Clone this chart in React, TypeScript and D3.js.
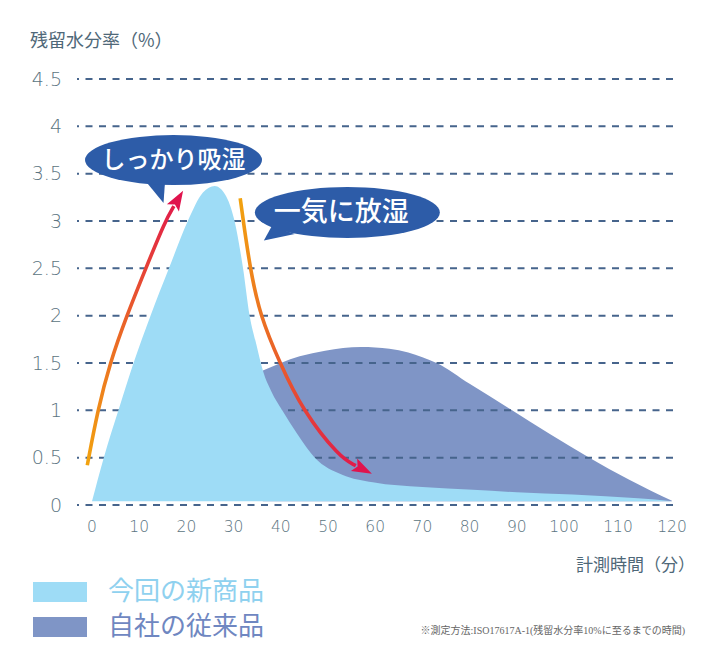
import * as d3 from "d3";
import React from "react";

// residual moisture (%) vs. measured time (min)
const newX = [0, 2.5, 5.6, 8.8, 12.4, 16.3, 20.3, 23.5, 26, 28.2, 30.2, 32, 33.4, 34.8, 36.2, 38, 40.3, 43.5, 47.2, 53, 59.5, 70, 80.7, 90, 101.6, 113.7, 120];
const newY = [0.04, 0.5, 1.0, 1.5, 2.0, 2.5, 3.0, 3.3, 3.37, 3.28, 3.0, 2.5, 2.0, 1.7, 1.42, 1.2, 1.0, 0.75, 0.5, 0.32, 0.24, 0.19, 0.16, 0.135, 0.11, 0.07, 0.04];

const oldX = [36.2, 40, 44, 49.4, 57, 63, 67, 70, 73, 80, 89, 97, 104.7, 112, 120];
const oldY = [1.42, 1.5, 1.57, 1.63, 1.67, 1.65, 1.61, 1.56, 1.5, 1.28, 1.0, 0.75, 0.5, 0.27, 0.045];

const baseValue = 0.04;

const xTicks = [0, 10, 20, 30, 40, 50, 60, 70, 80, 90, 100, 110, 120];
const yTicks = [0, 0.5, 1, 1.5, 2, 2.5, 3, 3.5, 4, 4.5];

const seriesNames = ["今回の新商品", "自社の従来品"];
const yTitle = "残留水分率（%）";
const xTitle = "計測時間（分）";
const note = "※測定方法:ISO17617A-1(残留水分率10%に至るまでの時間)";

// annotation arrows (data units)
const riseX = [-1.0, 1.2, 3.8, 7.35, 11.4, 15.5, 19.3];
const riseY = [0.42, 1.0, 1.5, 2.0, 2.5, 3.0, 3.32];
const fallX = [31.4, 32.05, 33.5, 35.6, 39.8, 44.6, 52.5, 59.3];
const fallY = [3.24, 3.0, 2.5, 2.0, 1.5, 1.0, 0.5, 0.33];

const bubbleText = ["しっかり吸湿", "一気に放湿"];
const bubbleX = [17.27, 54.1];
const bubbleY = [3.644, 3.09];

const LIGHT = "#9edcf6";
const DARK = "#7f95c6";
const GRID = "#46648c";
const TICK = "#5b7481";
const BUBBLE = "#2d5ca8";
const CJK = "'Noto Sans CJK JP', 'Noto Sans', sans-serif";
const NUM = "'DejaVu Sans', sans-serif";

const x = d3.scaleLinear().domain([0, 100, 120]).range([92, 564, 672]);
const y = d3.scaleLinear().domain([0, 4.5]).range([505, 79]);

const zip = (xs: number[], ys: number[]): [number, number][] =>
  xs.map((v, i) => [v, ys[i]]);

const area = d3
  .area<[number, number]>()
  .x((d) => x(d[0]))
  .y0(y(baseValue))
  .y1((d) => y(d[1]))
  .curve(d3.curveMonotoneX);

const Arrow = ({ xs, ys, id, from, to }: { xs: number[]; ys: number[]; id: string; from: string; to: string }) => {
  const pts = xs.map((v, i) => [x(v), y(ys[i])] as [number, number]);
  const tip = pts[pts.length - 1];
  const prev = pts[pts.length - 2];
  const dx = tip[0] - prev[0];
  const dy = tip[1] - prev[1];
  const len = Math.hypot(dx, dy);
  const ux = dx / len;
  const uy = dy / len;
  const headLen = 20;
  const headHalf = 7;
  const base: [number, number] = [tip[0] - ux * headLen, tip[1] - uy * headLen];
  const body = [...pts.slice(0, -1), [base[0] + ux * 2, base[1] + uy * 2] as [number, number]];
  const line = d3.line().curve(d3.curveBasis);
  const head = [
    tip,
    [base[0] - uy * headHalf, base[1] + ux * headHalf],
    [base[0] + ux * 4, base[1] + uy * 4],
    [base[0] + uy * headHalf, base[1] - ux * headHalf],
  ];
  return (
    <g>
      <defs>
        <linearGradient id={id} gradientUnits="userSpaceOnUse" x1={pts[0][0]} y1={pts[0][1]} x2={tip[0]} y2={tip[1]}>
          <stop offset="0" stopColor={from} />
          <stop offset="0.5" stopColor="#ea6328" />
          <stop offset="1" stopColor={to} />
        </linearGradient>
      </defs>
      <path d={line(body) ?? ""} fill="none" stroke={`url(#${id})`} strokeWidth={3.6} strokeLinecap="butt" />
      <polygon points={head.map((p) => p.join(",")).join(" ")} fill={to} />
    </g>
  );
};

const App = (): React.ReactElement => {
  const light = zip(newX, newY);
  const dark = zip(oldX, oldY);

  // bubble geometry in px, relative to each centre
  const bubbleR = [
    [88.5, 25],
    [92.5, 25.5],
  ];
  const tails = [
    [[-30.5, 18], [-10, 43], [-8.5, 22]],
    [[-75.5, 13.5], [-83.5, 28], [-52.5, 21.5]],
  ];
  const textDx = [0, -6];
  const textSize = [24, 27];

  return (
    <svg width={712} height={656} style={{ position: "absolute", left: 0, top: 0, background: "#fff" }}>
      {/* y title */}
      <text x={30} y={47} fontFamily={CJK} fontSize={18} fill="#4f6878">
        {yTitle}
      </text>

      {/* y tick labels */}
      {yTicks.map((t) => (
        <text key={t} x={62} y={y(t) + 1} textAnchor="end" dominantBaseline="middle" fontFamily={NUM} fontWeight={200} fontSize={19} fill={TICK}>
          {String(t)}
        </text>
      ))}

      {/* x tick labels */}
      {xTicks.map((t) => (
        <text key={t} x={x(t)} y={527} textAnchor="middle" dominantBaseline="middle" fontFamily={NUM} fontWeight={200} fontSize={15.5} fill={TICK}>
          {String(t)}
        </text>
      ))}

      {/* conventional product */}
      <path d={area(dark) ?? ""} fill={DARK} />

      {/* dashed grid */}
      {yTicks.map((t) => (
        <line key={t} x1={77} x2={676} y1={y(t)} y2={y(t)} stroke={GRID} strokeWidth={2} strokeDasharray="7 6.5" strokeDashoffset={5} />
      ))}

      {/* new product */}
      <path d={area(light) ?? ""} fill={LIGHT} />

      <Arrow xs={riseX} ys={riseY} id="riseGrad" from="#f2a30f" to="#e0134d" />
      <Arrow xs={fallX} ys={fallY} id="fallGrad" from="#f2a30f" to="#e0134d" />

      {/* callouts */}
      {bubbleText.map((txt, i) => {
        const cx = x(bubbleX[i]);
        const cy = y(bubbleY[i]);
        return (
          <g key={txt}>
            <polygon points={tails[i].map((p) => `${cx + p[0]},${cy + p[1]}`).join(" ")} fill={BUBBLE} />
            <ellipse cx={cx} cy={cy} rx={bubbleR[i][0]} ry={bubbleR[i][1]} fill={BUBBLE} />
            <text x={cx + textDx[i]} y={cy + 1} textAnchor="middle" dominantBaseline="middle" fontFamily={CJK} fontWeight={500} fontSize={textSize[i]} fill="#fff">
              {txt}
            </text>
          </g>
        );
      })}

      {/* x title */}
      <text x={695} y={571} textAnchor="end" fontFamily={CJK} fontSize={17} fill="#4f6878">
        {xTitle}
      </text>

      {/* legend */}
      {seriesNames.map((name, i) => (
        <g key={name}>
          <rect x={33} y={582 + i * 35} width={54} height={20} fill={i === 0 ? LIGHT : DARK} />
          <text x={108} y={593 + i * 35} dominantBaseline="middle" fontFamily={CJK} fontSize={26} fill={i === 0 ? "#8fd1ef" : "#6f87c1"}>
            {name}
          </text>
        </g>
      ))}

      {/* footnote */}
      <text x={685} y={634} textAnchor="end" fontFamily="'Liberation Serif', 'Noto Sans CJK JP', serif" fontSize={10} fill="#666">
        {note}
      </text>
    </svg>
  );
};

export default App;
